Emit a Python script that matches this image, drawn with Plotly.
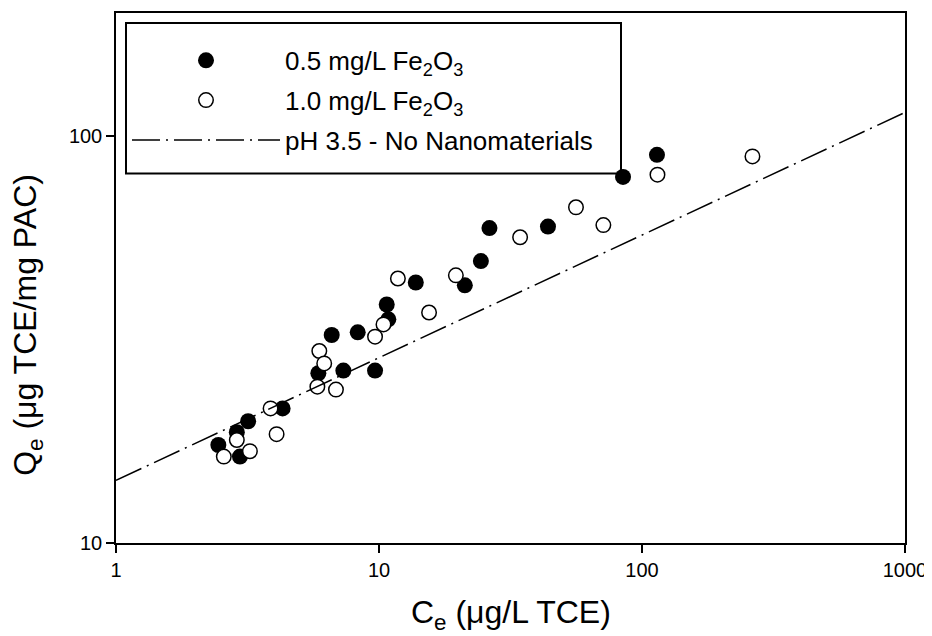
import plotly.graph_objects as go
import numpy as np

# 0.5 mg/L Fe2O3 (filled)
ce_05 = [2.45, 2.96, 2.88, 3.18, 4.30, 13.8, 21.2, 10.7, 10.85, 6.61, 8.30, 5.88, 7.32, 9.66, 24.4, 26.3, 43.9, 84.7, 114]
qe_05 = [17.4, 16.3, 18.7, 19.9, 21.4, 43.6, 42.9, 38.5, 35.4, 32.4, 32.9, 26.1, 26.5, 26.5, 49.2, 59.3, 59.8, 79.2, 89.7]

# 1.0 mg/L Fe2O3 (open)
ce_10 = [2.57, 2.88, 3.23, 3.87, 4.08, 11.8, 19.6, 15.5, 10.4, 9.66, 5.93, 6.19, 5.83, 6.86, 34.4, 56.1, 71.3, 114.5, 263]
qe_10 = [16.3, 17.9, 16.8, 21.4, 18.5, 44.6, 45.4, 36.8, 34.4, 32.1, 29.6, 27.6, 24.2, 23.8, 56.3, 66.7, 60.3, 80.2, 88.9]

# pH 3.5 - No Nanomaterials (fit line end points)
ce_fit = [1, 1000]
qe_fit = [14.25, 114]

x_ticks = [1, 10, 100, 1000]
y_ticks = [10, 100]

FONT = "Arial, Liberation Sans, sans-serif"

fig = go.Figure()
fig.add_trace(go.Scatter(
    x=ce_05, y=qe_05, mode="markers", name="0.5 mg/L Fe<sub>2</sub>O<sub>3</sub>",
    legendgroup="a",
    marker=dict(symbol="circle", size=16, color="black", line=dict(width=0))))
fig.add_trace(go.Scatter(
    x=ce_10, y=qe_10, mode="markers", name="1.0 mg/L Fe<sub>2</sub>O<sub>3</sub>",
    legendgroup="b",
    marker=dict(symbol="circle", size=14.5, color="white", line=dict(width=1.5, color="black"))))
fig.add_trace(go.Scatter(
    x=ce_fit, y=qe_fit, mode="lines", name="pH 3.5 - No Nanomaterials",
    legendgroup="c",
    line=dict(color="black", width=1.5, dash="28px,6px,2px,6px")))

# page body has an 8px default margin, so the figure is shrunk by 8px
fig.update_layout(
    width=924, height=628,
    margin=dict(l=108, r=27, t=3, b=93, pad=0),
    paper_bgcolor="white", plot_bgcolor="white",
    font=dict(family=FONT, color="black", size=20),
    showlegend=True,
    legend=dict(
        x=(127 - 116) / 789, xanchor="left",
        y=(543 - 35) / 532, yanchor="top",
        bgcolor="rgba(0,0,0,0)", borderwidth=0,
        font=dict(family=FONT, size=26, color="black"),
        itemwidth=148, tracegroupgap=3,
    ),
    shapes=[dict(type="rect", xref="paper", yref="paper",
                 x0=(126 - 116) / 789, x1=(621 - 116) / 789,
                 y0=(543 - 172) / 532, y1=(543 - 21) / 532,
                 line=dict(color="black", width=2), fillcolor="white", layer="below")],
    annotations=[
        dict(text="C<sub>e</sub> (μg/L TCE)", xref="paper", yref="paper",
             x=0.5, y=(543 - 615) / 532, xanchor="center", yanchor="middle",
             showarrow=False, font=dict(family=FONT, size=32, color="black")),
        dict(text="Q<sub>e</sub> (μg TCE/mg PAC)", xref="paper", yref="paper",
             x=(28 - 116) / 789, y=(543 - 324) / 532, xanchor="center", yanchor="middle",
             textangle=-90, showarrow=False, font=dict(family=FONT, size=32, color="black")),
    ],
)

axis_common = dict(
    type="log", showgrid=False, zeroline=False,
    showline=True, linecolor="black", linewidth=1.5, mirror=True,
    ticks="outside", ticklen=8, tickwidth=1.5, tickcolor="black",
    tickfont=dict(family=FONT, size=20, color="black"),
    minor=dict(ticks=""),
)
fig.update_xaxes(range=[0, 3], tickvals=x_ticks, ticktext=[str(v) for v in x_ticks], **axis_common)
fig.update_yaxes(range=[1, np.log10(200)], tickvals=y_ticks, ticktext=[str(v) for v in y_ticks], **axis_common)

fig.write_html("out.html")
